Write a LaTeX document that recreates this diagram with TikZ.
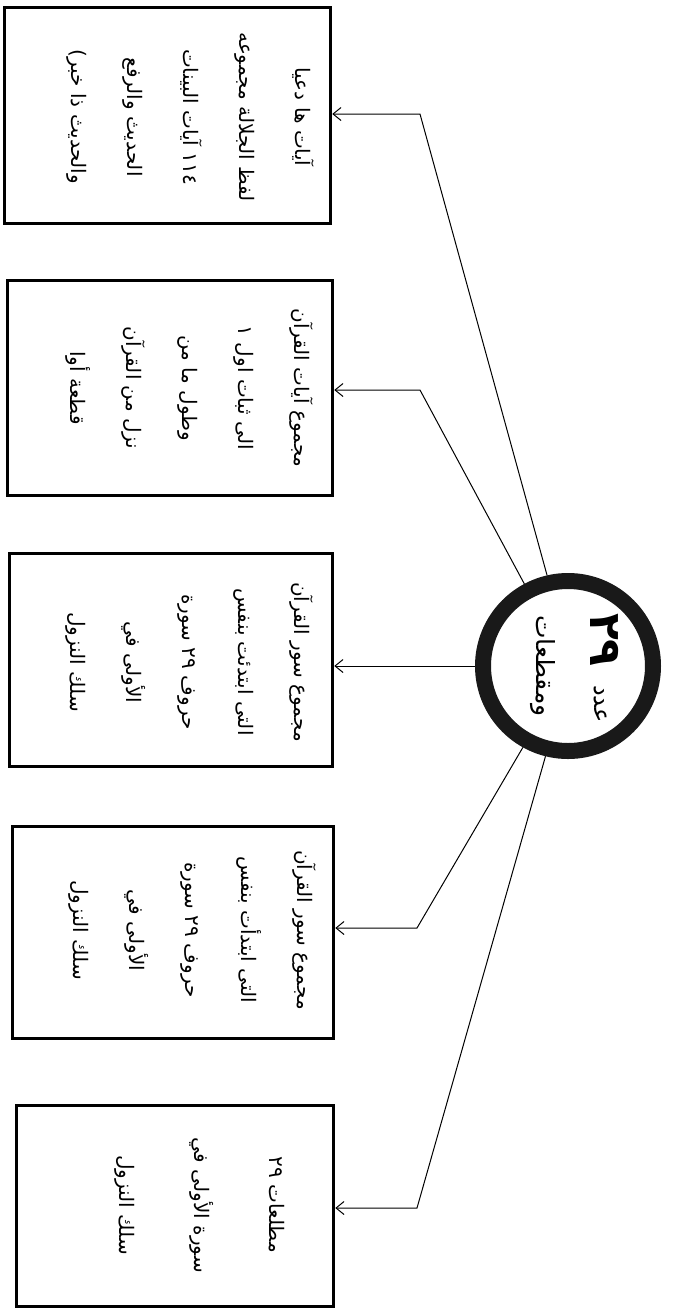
\documentclass[tikz,border=0pt]{standalone}
\usepackage{fontspec}
\usetikzlibrary{arrows.meta}
\newfontfamily\arabicfont[Script=Arabic]{DejaVu Sans}
\TeXXeTstate=1
\newcommand{\AR}[1]{\beginR #1\endR}
\begin{document}
\begin{tikzpicture}[x=1pt,y=-1pt,
  boxnode/.style={draw=black, line width=3.5pt, rectangle, inner sep=0pt},
  txtnode/.style={rotate=-90, align=center, font=\arabicfont\fontsize{20}{56}\selectfont, inner sep=0pt},
  conn/.style={draw=black, line width=1pt, -{Straight Barb[length=8pt,width=13pt,line width=1pt]}},
  ring/.style={circle, draw=black!90, line width=16pt, minimum size=170pt, inner sep=0pt}]
\useasboundingbox (0,0) rectangle (673,1312);
\fill[white] (0,0) rectangle (673,1312);
% boxes
\node[boxnode, minimum width=326pt, minimum height=216pt] (b1) at (167.5,115.5) {};
\node[boxnode, minimum width=325pt, minimum height=215pt] (b2) at (170,388) {};
\node[boxnode, minimum width=323pt, minimum height=213pt] (b3) at (171,660) {};
\node[boxnode, minimum width=321pt, minimum height=212pt] (b4) at (173,932.5) {};
\node[boxnode, minimum width=317pt, minimum height=201pt] (b5) at (175,1206) {};
% box texts
\node[txtnode] (t1) at (190,117) {\AR{آيات ها دعيا}\\ \AR{لفظ الجلالة مجموعه}\\ \AR{١١٤ آيات البينات}\\ \AR{الحديث والرفع}\\ \AR{والحديث ذا خبر)}};
\node[txtnode] (t2) at (189,388) {\AR{مجموع آيات القرآن}\\ \AR{الى ثبات اول ١}\\ \AR{وطول ما من}\\ \AR{نزل من القرآن}\\ \AR{قطعة أوا}};
\node[txtnode] (t3) at (189,662) {\AR{مجموع سور القرآن}\\ \AR{التى ابتدئت بنفس}\\ \AR{حروف ٢٩ سورة}\\ \AR{الأولى في}\\ \AR{سلك النزول}};
\node[txtnode] (t4) at (192,930) {\AR{مجموع سور القرآن}\\ \AR{التى ابتدأت بنفس}\\ \AR{حروف ٢٩ سورة}\\ \AR{الأولى في}\\ \AR{سلك النزول}};
\node[txtnode, font=\arabicfont\fontsize{20}{75}\selectfont] (t5) at (200,1205) {\AR{مطلعات ٢٩}\\ \AR{سورة الأولى في}\\ \AR{سلك النزول}};
% central ring
\node[ring] (c) at (568,666) {};
\node[rotate=-90, font=\arabicfont\fontsize{24}{24}\selectfont, inner sep=0pt] (cw) at (601,704) {\AR{عدد}};
\node[rotate=-90, font=\arabicfont\bfseries\fontsize{44}{44}\selectfont, inner sep=0pt] (cn) at (605,640) {٢٩};
\node[rotate=-90, font=\arabicfont\fontsize{25}{25}\selectfont, inner sep=0pt] (cm) at (543,666) {\AR{ومقطعات}};
% bends
\coordinate (k1) at (420,114);
\coordinate (k2) at (420,390);
\coordinate (k4) at (417,928);
\coordinate (k5) at (417,1208);
% connectors
\draw[conn] (c.103) -- (k1) -- (k1 -| b1.east);
\draw[conn] (c.118) -- (k2) -- (k2 -| b2.east);
\draw[conn] (c.west) -- (c.west -| b3.east);
\draw[conn] (c.241) -- (k4) -- (k4 -| b4.east);
\draw[conn] (c.256) -- (k5) -- (k5 -| b5.east);
\end{tikzpicture}
\end{document}
